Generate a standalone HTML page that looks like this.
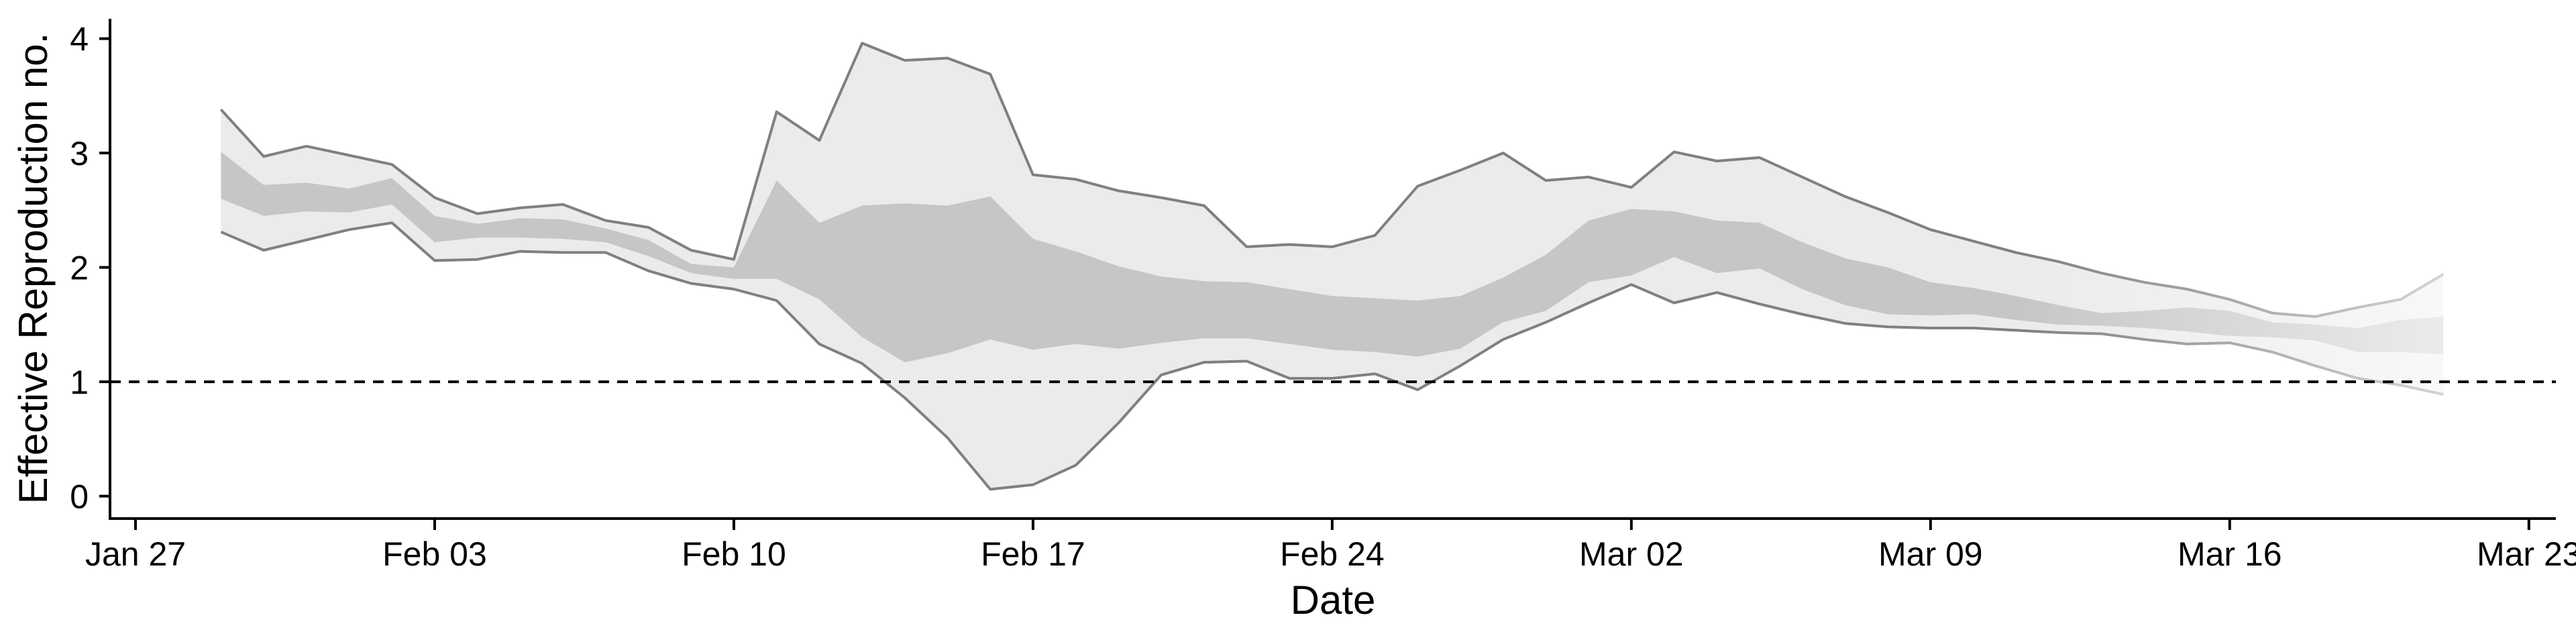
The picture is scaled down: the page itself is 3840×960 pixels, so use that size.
<!DOCTYPE html>
<html><head><meta charset="utf-8"><style>
html,body{margin:0;padding:0;background:#fff;}
svg{display:block;font-family:"Liberation Sans",sans-serif;}
</style></head><body>
<svg id="chart" width="3840" height="960" viewBox="0 0 3840 960" xmlns="http://www.w3.org/2000/svg">
<defs>
<linearGradient id="fadeGrad" gradientUnits="userSpaceOnUse" x1="0" y1="0" x2="3840" y2="0">
<stop offset="0" stop-color="#fff"/>
<stop id="fs1" offset="0.75" stop-color="#fff"/>
<stop id="fs2" offset="0.95" stop-color="#fff" stop-opacity="0.35"/>
<stop offset="1" stop-color="#fff" stop-opacity="0.35"/>
</linearGradient>
<mask id="fadeMask" maskUnits="userSpaceOnUse" x="0" y="0" width="3840" height="960"><rect x="0" y="0" width="3840" height="960" fill="url(#fadeGrad)"/></mask>
</defs>
<g id="plot" mask="url(#fadeMask)"></g>
<g id="axes"></g>
</svg>
<script>
const startDay = 2; // Jan 29 (days after Jan 27)
const upper90 = [3.38,2.97,3.06,2.98,2.90,2.61,2.47,2.52,2.55,2.41,2.35,2.15,2.07,3.36,3.11,3.96,3.81,3.83,3.69,2.81,2.77,2.67,2.61,2.54,2.18,2.20,2.18,2.28,2.71,2.85,3.00,2.76,2.79,2.70,3.01,2.93,2.96,2.79,2.62,2.48,2.33,2.23,2.13,2.05,1.95,1.87,1.81,1.72,1.60,1.57,1.65,1.72,1.94];
const upper50 = [3.01,2.72,2.74,2.69,2.78,2.45,2.38,2.43,2.42,2.34,2.24,2.03,2.00,2.76,2.39,2.54,2.56,2.54,2.62,2.25,2.14,2.01,1.92,1.88,1.87,1.81,1.75,1.73,1.71,1.75,1.91,2.11,2.41,2.51,2.49,2.41,2.39,2.22,2.08,2.00,1.87,1.82,1.75,1.67,1.60,1.62,1.65,1.62,1.52,1.50,1.47,1.54,1.57];
const lower50 = [2.60,2.45,2.49,2.48,2.55,2.22,2.26,2.26,2.25,2.22,2.10,1.95,1.90,1.90,1.72,1.39,1.17,1.25,1.37,1.28,1.33,1.29,1.34,1.38,1.38,1.33,1.28,1.26,1.22,1.29,1.52,1.62,1.87,1.93,2.09,1.95,1.99,1.81,1.67,1.59,1.58,1.59,1.54,1.50,1.49,1.47,1.44,1.40,1.39,1.36,1.26,1.26,1.24];
const lower90 = [2.31,2.15,2.24,2.33,2.39,2.06,2.07,2.14,2.13,2.13,1.97,1.86,1.81,1.71,1.33,1.16,0.86,0.51,0.06,0.10,0.27,0.64,1.06,1.17,1.18,1.03,1.03,1.07,0.93,1.14,1.37,1.52,1.69,1.85,1.69,1.78,1.68,1.59,1.51,1.48,1.47,1.47,1.45,1.43,1.42,1.37,1.33,1.34,1.26,1.14,1.03,0.97,0.89];
const xTickDays = [0,7,14,21,28,35,42,49,56];
const xTickLabels = ["Jan 27","Feb 03","Feb 10","Feb 17","Feb 24","Mar 02","Mar 09","Mar 16","Mar 23"];
const yTicks = [0,1,2,3,4];
const refLine = [1];

const NS="http://www.w3.org/2000/svg";
const X0=202, PX_PER_DAY=63.71, Y0=739.6, PX_PER_UNIT=170.5;
function xs(d){return X0+d*PX_PER_DAY;}
function ys(v){return Y0-v*PX_PER_UNIT;}
function mk(tag,attrs,parent){const e=document.createElementNS(NS,tag);for(const k in attrs)e.setAttribute(k,attrs[k]);parent.appendChild(e);return e;}
const plot=document.getElementById('plot'), axes=document.getElementById('axes');

function band(top,bot){
  let p=top.map((v,i)=>xs(startDay+i).toFixed(1)+','+ys(v).toFixed(1));
  for(let i=bot.length-1;i>=0;i--)p.push(xs(startDay+i).toFixed(1)+','+ys(bot[i]).toFixed(1));
  return p.join(' ');
}
function line(arr){return arr.map((v,i)=>xs(startDay+i).toFixed(1)+','+ys(v).toFixed(1)).join(' ');}

const outer=mk('polygon',{points:band(upper90,lower90),fill:'#ebebeb'},plot);


const inner=mk('polygon',{points:band(upper50,lower50),fill:'#c6c6c6'},plot);


const lu=mk('polyline',{points:line(upper90),fill:'none',stroke:'#808080','stroke-width':4,'stroke-linejoin':'round'},plot);


const ll=mk('polyline',{points:line(lower90),fill:'none',stroke:'#808080','stroke-width':4,'stroke-linejoin':'round'},plot);



// fade region
const n=upper90.length;
document.getElementById('fs1').setAttribute('offset',(xs(startDay+n-11)/3840).toFixed(4));
document.getElementById('fs2').setAttribute('offset',(xs(startDay+n-1)/3840).toFixed(4));

// reference line
refLine.forEach(v=>{
  const r=mk('line',{x1:164,x2:3810,y1:ys(v),y2:ys(v),stroke:'#000','stroke-width':4,'stroke-dasharray':'16 12'},axes);
  
  
});

// axes lines
const ya=mk('line',{x1:164,x2:164,y1:28,y2:775,stroke:'#000','stroke-width':4},axes);


const xa=mk('line',{x1:162,x2:3810,y1:773,y2:773,stroke:'#000','stroke-width':4},axes);



yTicks.forEach(v=>{
  const t=mk('line',{x1:148,x2:164,y1:ys(v),y2:ys(v),stroke:'#000','stroke-width':4},axes);
  
  
  const l=mk('text',{x:132,y:ys(v)+18,'text-anchor':'end','font-size':50,fill:'#000'},axes);
  l.textContent=v;
  
  
});
xTickDays.forEach((d,i)=>{
  const t=mk('line',{x1:xs(d),x2:xs(d),y1:773,y2:790,stroke:'#000','stroke-width':4},axes);
  
  
  const l=mk('text',{x:xs(d),y:843,'text-anchor':'middle','font-size':50,fill:'#000'},axes);
  l.textContent=xTickLabels[i];
  
  
});
const xt=mk('text',{x:1987,y:915,'text-anchor':'middle','font-size':60,fill:'#000'},axes);
xt.textContent='Date';


const yt=mk('text',{x:0,y:0,'text-anchor':'middle','font-size':60,fill:'#000',transform:'translate(70,400) rotate(-90)'},axes);
yt.textContent='Effective Reproduction no.';


</script>
</body></html>
